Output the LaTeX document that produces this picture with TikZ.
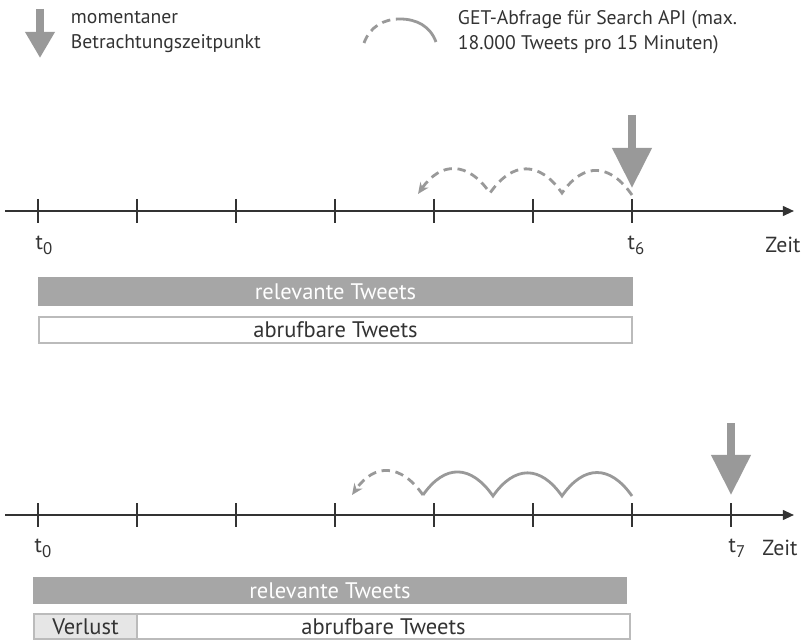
\documentclass[tikz,border=0pt]{standalone}
\usepackage{fontspec}
\setmainfont{PT Sans}
\usetikzlibrary{arrows.meta}
\definecolor{inkgray}{HTML}{333333}
\definecolor{arrowgray}{HTML}{999999}
\definecolor{bargray}{HTML}{A6A6A6}
\definecolor{boxgray}{HTML}{BBBBBB}
\definecolor{lossgray}{HTML}{E6E6E6}
\newcommand{\tlabel}[1]{t\raisebox{-0.45ex}{\fontsize{12}{12}\selectfont #1}}

\begin{document}
\begin{tikzpicture}[x=0.025cm, y=-0.025cm, font=\fontsize{14}{18}\selectfont, text=inkgray,
  timeaxis/.style={draw=inkgray, line width=1.4pt, -{Triangle[length=8pt,width=7pt]}},
  tickmark/.style={draw=inkgray, line width=1.4pt},
  ticklabel/.style={font=\fontsize{15.5}{18}\selectfont},
  nowarrow/.style={draw=arrowgray, line width=0.18cm, -{Triangle[length=1cm,width=0.95cm]}},
  queryline/.style={draw=arrowgray, line width=2pt},
  querydash/.style={queryline, dash pattern=on 6pt off 4pt},
  hop/.style={out=125, in=55, looseness=1.4},
  relbar/.style={fill=bargray, text=white, inner sep=0pt, font=\fontsize{16}{18}\selectfont},
  availbar/.style={draw=boxgray, line width=1.5pt, fill=white, inner sep=0pt, font=\fontsize{16}{18}\selectfont},
  lossbar/.style={availbar, fill=lossgray}]
\useasboundingbox (0,0) rectangle (803,643);

% legend
\draw[nowarrow, line width=0.2cm, -{Triangle[length=0.65cm,width=0.7cm]}] (40,9) -- (40,58);
\node (legnow) [anchor=west, align=left] at (66,32) {momentaner\\Betrachtungszeitpunkt};
\coordinate (l0) at (364,43);
\coordinate (lm) at (400,19);
\coordinate (l1) at (436,42);
\draw[querydash] (l0) to[out=70, in=180] (lm);
\draw[queryline] (lm) to[out=0, in=110] (l1);
\node (legget) [anchor=west, align=left] at (453,32) {GET-Abfrage für Search API (max.\\18.000 Tweets pro 15 Minuten)};

% oben: Zeitpunkt t6
\coordinate (s1) at (5,211);
\coordinate (e1) at (794,211);
\draw[timeaxis] (s1) -- (e1);
\foreach \i in {0,...,6}
  \draw[tickmark] (38+99*\i,199) -- (38+99*\i,223);
\node (t0a) [ticklabel] at (44,245) {\tlabel{0}};
\node (t6) [ticklabel] at (636,245) {\tlabel{6}};
\node (zeit1) [ticklabel] at (783,245) {Zeit};
\draw[nowarrow] (632,115) -- (632,188);
\coordinate (h0) at (632,195);
\coordinate (h1) at (562,193);
\coordinate (h2) at (490,193);
\coordinate (h3) at (418,194);
\draw[querydash, -{Stealth[length=8pt,width=7pt]}] (h0) to[hop] (h1) to[hop] (h2) to[hop] (h3);
\node (rel1) [relbar, minimum width=14.875cm, minimum height=0.725cm] at (335.5,291.5) {relevante Tweets};
\node (avail1) [availbar, minimum width=14.825cm, minimum height=0.65cm] at (335.5,330) {abrufbare Tweets};

% unten: Zeitpunkt t7
\coordinate (s2) at (5,515);
\coordinate (e2) at (794,515);
\draw[timeaxis] (s2) -- (e2);
\foreach \i in {0,...,7}
  \draw[tickmark] (38+99*\i,503) -- (38+99*\i,527);
\node (t0b) [ticklabel] at (43,548) {\tlabel{0}};
\node (t7) [ticklabel] at (737,548) {\tlabel{7}};
\node (zeit2) [ticklabel] at (780,548) {Zeit};
\draw[nowarrow] (731,423) -- (731,495);
\coordinate (g0) at (632,496);
\coordinate (g1) at (562,496);
\coordinate (g2) at (493,496);
\coordinate (g3) at (423,495);
\coordinate (g4) at (352,495);
\draw[queryline] (g0) to[hop] (g1) to[hop] (g2) to[hop] (g3);
\draw[querydash, -{Stealth[length=8pt,width=7pt]}] (g3) to[hop] (g4);
\node (rel2) [relbar, minimum width=14.85cm, minimum height=0.675cm] at (330,590.5) {relevante Tweets};
\node (loss) [lossbar, minimum width=2.575cm, minimum height=0.625cm] at (85.5,626.5) {Verlust};
\node (avail2) [availbar, minimum width=12.325cm, minimum height=0.625cm] at (383.5,626.5) {abrufbare Tweets};
\end{tikzpicture}
\end{document}
